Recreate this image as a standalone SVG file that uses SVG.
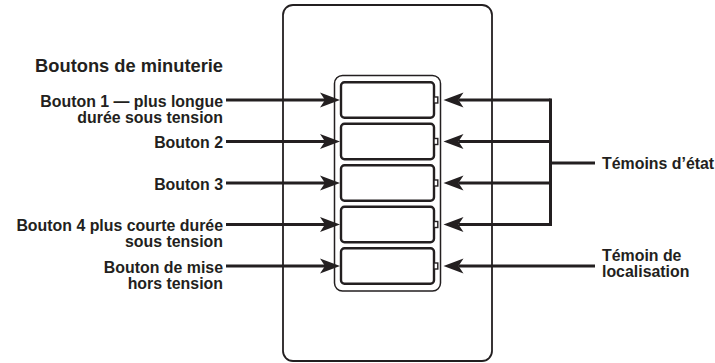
<svg xmlns="http://www.w3.org/2000/svg" width="715" height="363" viewBox="0 0 715 363">
<defs>
<style>
.t{font-family:"Liberation Sans",Arial,Helvetica,sans-serif;font-weight:bold;font-size:15.9px;fill:#231f20}
.h{font-size:18.3px}
.e{text-anchor:end}
.plate{fill:#fff;stroke:#231f20;stroke-width:1.8}
.frame{fill:#fff;stroke:#231f20;stroke-width:1.5}
.btn{fill:#fff;stroke:#231f20;stroke-width:2.4}
.led{fill:#fff;stroke:#231f20;stroke-width:1.4}
.c{fill:none;stroke:#231f20;stroke-width:3}
.a{marker-end:url(#ah)}
</style>
<marker id="ah" viewBox="-6 -8 22 16" refX="0" refY="0" markerWidth="22" markerHeight="16" markerUnits="userSpaceOnUse" orient="auto">
<path d="M15,0 L-5,-7.5 L0,0 L-5,7.5 Z" fill="#231f20"/>
</marker>
</defs>
<rect width="715" height="363" fill="#fff"/>
<g id="plate">
<rect class="plate" x="283" y="5" width="209" height="356" rx="10"/>
</g>
<g id="frame">
<rect class="frame" x="334.5" y="75.5" width="106" height="215.5" rx="8"/>
</g>
<g id="button1"><rect class="btn" x="341" y="82.25" width="93" height="35.5" rx="3.5"/><rect class="led" x="434" y="97" width="3.8" height="6"/></g>
<g id="button2"><rect class="btn" x="341" y="123.75" width="93" height="35.5" rx="3.5"/><rect class="led" x="434" y="138.5" width="3.8" height="6"/></g>
<g id="button3"><rect class="btn" x="341" y="165.25" width="93" height="35.5" rx="3.5"/><rect class="led" x="434" y="180" width="3.8" height="6"/></g>
<g id="button4"><rect class="btn" x="341" y="206.75" width="93" height="35.5" rx="3.5"/><rect class="led" x="434" y="221.5" width="3.8" height="6"/></g>
<g id="button5"><rect class="btn" x="341" y="248.25" width="93" height="35.5" rx="3.5"/><rect class="led" x="434" y="263" width="3.8" height="6"/></g>
<g id="connectors">
<path class="c a" d="M226,100 H325"/>
<path class="c a" d="M226,141.5 H325"/>
<path class="c a" d="M226,183 H325"/>
<path class="c a" d="M226,224.5 H325"/>
<path class="c a" d="M226,266 H325"/>
<path class="c a" d="M550.5,100 H458.5"/>
<path class="c a" d="M550.5,141.5 H458.5"/>
<path class="c a" d="M550.5,183 H458.5"/>
<path class="c a" d="M550.5,224.5 H458.5"/>
<path class="c" stroke-linecap="square" d="M550.5,100 V224.5"/>
<path class="c" d="M550.5,163 H595"/>
<path class="c a" d="M595,266 H458.5"/>
</g>
<g id="heading"><text class="t h e" x="223" y="72">Boutons de minuterie</text></g>
<g id="label1"><text class="t e" x="223" y="106.5">Bouton 1 — plus longue</text><text class="t e" x="223" y="122.5">durée sous tension</text></g>
<g id="label2"><text class="t e" x="223" y="148">Bouton 2</text></g>
<g id="label3"><text class="t e" x="223" y="189.5">Bouton 3</text></g>
<g id="label4"><text class="t e" x="223" y="231">Bouton 4 plus courte durée</text><text class="t e" x="223" y="247">sous tension</text></g>
<g id="label5"><text class="t e" x="223" y="272.5">Bouton de mise</text><text class="t e" x="223" y="288.5">hors tension</text></g>
<g id="label-etat"><text class="t" x="602" y="168.5">Témoins d’état</text></g>
<g id="label-loc"><text class="t" x="602" y="261">Témoin de</text><text class="t" x="602" y="277">localisation</text></g>
</svg>
